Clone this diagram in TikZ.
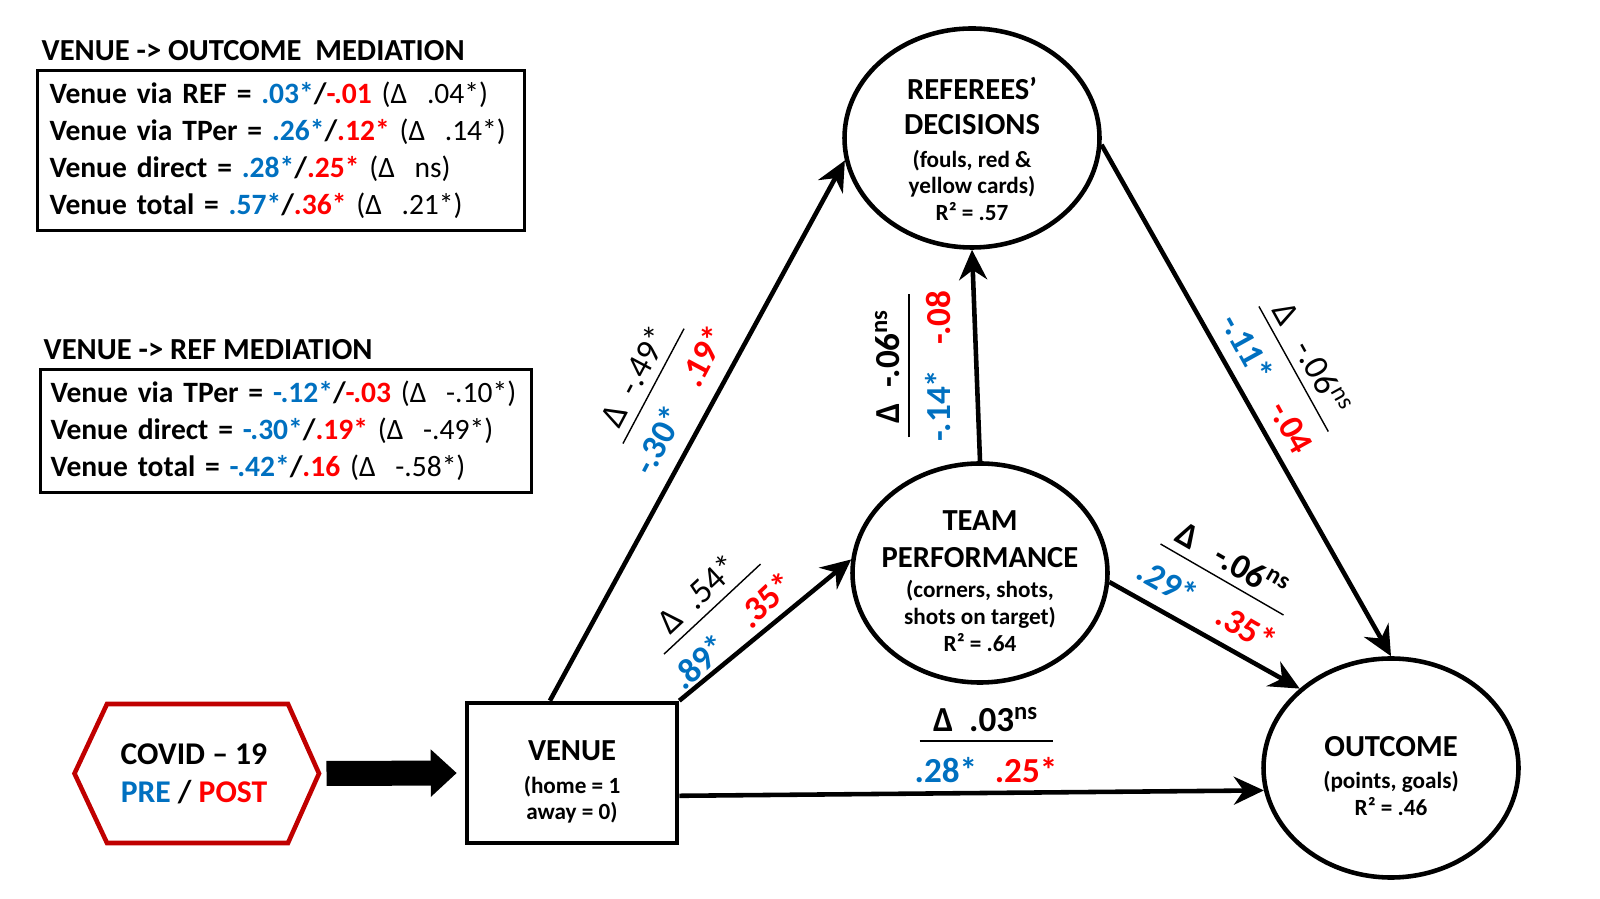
\documentclass[tikz,border=0pt]{standalone}
\usepackage{fontspec}
\setmainfont{Carlito}
\usepackage{xcolor}
\usepackage{tikz}
\usetikzlibrary{arrows.meta,positioning,shapes.geometric}
\definecolor{PreBlue}{HTML}{0070C0}
\definecolor{PostRed}{HTML}{FF0000}
\definecolor{CovidRed}{HTML}{C00000}
\newcommand{\pre}[1]{\textcolor{PreBlue}{#1}}
\newcommand{\post}[1]{\textcolor{PostRed}{#1}}
\newcommand{\ns}{\textsuperscript{ns}}
\newcommand{\dl}[1]{\textmd{(Δ\ \ #1)}}
\newcommand{\cname}[1]{{\fontsize{8.7}{10}\selectfont #1}}
\newcommand{\coefline}[5][0.8em]{\underline{\makebox[#2]{#3\rule[-1.2pt]{0pt}{1pt}}}\\[2.5pt]{\bfseries\pre{#4}\hspace{#1}\post{#5}}}

\begin{document}
\begin{tikzpicture}[
  construct/.style={ellipse, draw, line width=1.3pt, inner sep=0pt, minimum width=2.55cm, minimum height=2.19cm},
  ctext/.style={align=center, inner sep=0pt, font=\fontsize{6.6}{7.6}\selectfont\bfseries},
  venuebox/.style={draw, line width=1.3pt, minimum width=2.1cm, minimum height=1.4cm, inner sep=0pt},
  medbox/.style={draw, line width=0.9pt, anchor=north west, align=left, inner xsep=1.2mm, font=\fontsize{8.4}{10.5}\selectfont\bfseries},
  heading/.style={anchor=base west, inner sep=0pt, font=\fontsize{8.7}{10}\selectfont\bfseries},
  coef/.style={align=center, inner sep=0pt, font=\fontsize{10}{12}\selectfont},
  link/.style={-{Stealth[length=3mm,width=2.8mm]}, line width=1.3pt},
  bigarrow/.style={-{Triangle[length=2.6mm,width=4.6mm]}, line width=2.5mm},
  hexline/.style={draw=CovidRed, line width=1.3pt, line join=miter}
]
\useasboundingbox (0,0) rectangle (16,8.98);

\node[heading] (outhead) at (0.41,8.375) {VENUE -> OUTCOME\ \ MEDIATION};
\node[medbox, text width=4.63cm, minimum height=1.59cm] (outbox) at (0.36,8.29) {Venue via REF = \pre{.03*}/\post{-.01} \dl{.04*}\\
Venue via TPer = \pre{.26*}/\post{.12*} \dl{.14*}\\
Venue direct = \pre{.28*}/\post{.25*} \dl{ns}\\
Venue total = \pre{.57*}/\post{.36*} \dl{.21*}};

\node[heading] (refhead) at (0.43,5.385) {VENUE -> REF MEDIATION};
\node[medbox, text width=4.71cm, inner xsep=1mm, minimum height=1.22cm] (refbox) at (0.39,5.30) {Venue via TPer = \pre{-.12*}/\post{-.03} \dl{-.10*}\\
Venue direct = \pre{-.30*}/\post{.19*} \dl{-.49*}\\
Venue total = \pre{-.42*}/\post{.16} \dl{-.58*}};

\node[construct] (ref) at (9.72,7.60) {};
\node[ctext] (reftxt) at ([yshift=-1.1mm]ref.center) {\cname{REFEREES’}\\[2.4pt]\cname{DECISIONS}\\[1.6pt](fouls, red \&\\yellow cards)\\R² = .57};
\node[construct] (team) at (9.80,3.25) {};
\node[ctext] (teamtxt) at ([yshift=-0.8mm]team.center) {\cname{TEAM}\\[3pt]\cname{PERFORMANCE}\\[1pt](corners, shots,\\shots on target)\\R² = .64};
\node[construct] (outcome) at (13.91,1.30) {};
\node[ctext] (outtxt) at ([yshift=-0.8mm]outcome.center) {\cname{OUTCOME}\\[1.6pt](points, goals)\\R² = .46};
\node[venuebox] (venue) at (5.72,1.25) {};
\node[ctext] (venuetxt) at ([yshift=-0.9mm]venue.center) {\cname{VENUE}\\[1.8pt](home = 1\\away = 0)};

\draw[hexline] (0.745,1.245) -- (1.07,1.94) -- (2.88,1.94) -- (3.19,1.245) -- (2.88,0.55) -- (1.07,0.55) -- cycle;
\node[ctext, font=\fontsize{9}{10.8}\selectfont\bfseries] (covid) at (1.94,1.245) {COVID – 19\\\pre{PRE} / \post{POST}};
\coordinate (covidtip) at (3.19,1.245);

\draw[bigarrow, shorten <=0.75mm, shorten >=0.8mm] (covidtip) -- (venue.west);
\draw[link] (venue.107) -- (ref.190);
\draw[link] (venue.north east) -- (team.174);
\draw[link] (venue.-12) -- (outcome.190);
\draw[link] (team.north) -- (ref.south);
\draw[link] (ref.-3) -- (outcome.north);
\draw[link] (team.-4) -- (outcome.139);

\node[coef, rotate=62] (labref) at (6.57,5.10) {\coefline{1.3cm}{Δ\ \ -.49*}{-.30*}{.19*}};
\node[coef, rotate=43] (labteam) at (7.15,2.86) {\coefline{1.32cm}{Δ\ \ .54*}{.89*}{.35*}};
\node[coef, rotate=90, font=\fontsize{10}{12}\selectfont\bfseries] (labtr) at (9.13,5.32) {\coefline[0.7em]{1.43cm}{Δ\ \ -.06\ns}{-.14*}{-.08}};
\node[coef, rotate=-61] (labro) at (12.90,5.27) {\coefline{1.43cm}{Δ\ \ \ -.06\ns}{-.11*}{-.04}};
\node[coef, rotate=-30, font=\fontsize{10}{12}\selectfont\bfseries] (labto) at (12.20,3.15) {\coefline{1.42cm}{Δ\ \ \ -.06\ns}{.29*}{.35*}};
\node[coef, font=\fontsize{10}{12}\selectfont\bfseries] (labvo) at (9.86,1.53) {\coefline[0.5em]{1.33cm}{Δ\ \ .03\ns}{.28*}{.25*}};
\end{tikzpicture}
\end{document}
